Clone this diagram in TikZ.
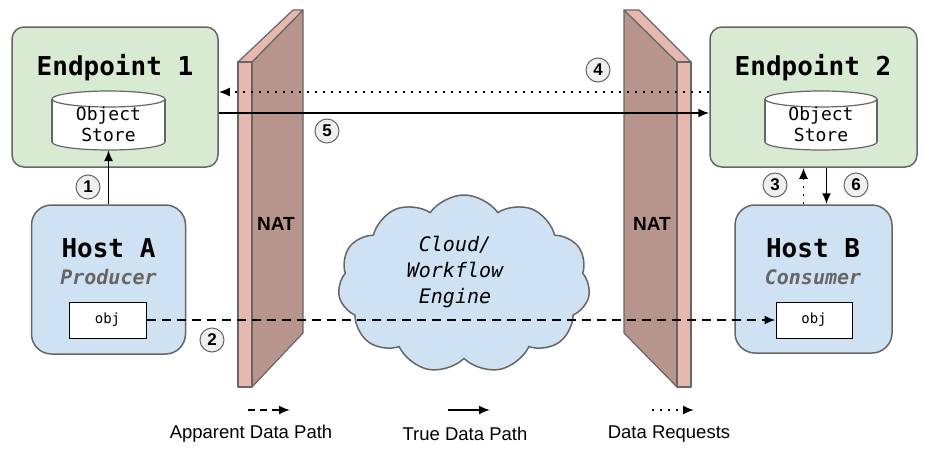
\documentclass[tikz,border=0pt]{standalone}
\usepackage{fontspec}
\setmainfont{Liberation Sans}
\newfontfamily\monof{DejaVu Sans Mono}
\usetikzlibrary{shapes.symbols,arrows.meta}
\definecolor{bordergray}{HTML}{666666}
\definecolor{epgreen}{HTML}{D9EAD3}
\definecolor{hostblue}{HTML}{CFE2F3}
\definecolor{natlight}{HTML}{E6B8AF}
\definecolor{natdark}{HTML}{B7958D}
\definecolor{numfill}{HTML}{EFEFEF}
\definecolor{subgray}{HTML}{666666}
\begin{document}
\begin{tikzpicture}[x=1pt,y=-1pt,
  epbox/.style={draw=bordergray, line width=1.5pt, rectangle, rounded corners=12pt, fill=epgreen},
  hostbox/.style={draw=bordergray, line width=1.5pt, rectangle, rounded corners=20pt, fill=hostblue},
  objbox/.style={draw=black, line width=1pt, fill=white, rectangle, minimum width=77pt, minimum height=36pt, font=\monof\fontsize{14}{16}\selectfont},
  titletext/.style={font=\monof\bfseries\fontsize{26}{28}\selectfont},
  subtext/.style={font=\monof\bfseries\itshape\fontsize{20}{22}\selectfont, text=subgray},
  storetext/.style={font=\monof\fontsize{18}{21}\selectfont, align=center},
  natface/.style={draw=bordergray, line width=1.2pt, line join=round},
  nattext/.style={font=\bfseries\fontsize{19}{21}\selectfont},
  num/.style={circle, draw=bordergray, fill=numfill, line width=1pt, minimum size=24pt, inner sep=0pt, font=\bfseries\fontsize{17}{17}\selectfont},
  cyl/.style={draw=bordergray, line width=1.2pt, fill=white},
  truearrow/.style={line width=1.8pt, -{Latex[length=11pt,width=9pt]}},
  apparrow/.style={line width=1.8pt, dash pattern=on 9pt off 6pt, -{Latex[length=11pt,width=9pt]}},
  reqarrow/.style={line width=1.8pt, dash pattern=on 2pt off 6pt, -{Latex[length=11pt,width=9pt]}},
  legtext/.style={font=\fontsize{18.5}{20}\selectfont}
]
\useasboundingbox (0,0) rectangle (929,461);

% NAT left
\draw[natface, fill=natdark] (252,62) -- (303,10) -- (303,333) -- (252,387) -- cycle;
\draw[natface, fill=natlight] (238,62) -- (293,10) -- (303,10) -- (252,62) -- cycle;
\draw[natface, fill=natlight] (238,62) rectangle (252,387);
\node[nattext] (nat1) at (276,224) {NAT};

% NAT right
\draw[natface, fill=natdark] (624,10) -- (677,62) -- (677,387) -- (624,333) -- cycle;
\draw[natface, fill=natlight] (624,10) -- (639,10) -- (691,62) -- (677,62) -- cycle;
\draw[natface, fill=natlight] (677,62) rectangle (691,387);
\node[nattext] (nat2) at (652,224) {NAT};

% Cloud
\node[cloud, cloud puffs=11, cloud puff arc=110, aspect=1.4, draw=bordergray, fill=hostblue, line width=1.5pt, minimum width=252pt, minimum height=178pt] (cloud) at (464,284) {};
\node[font=\monof\itshape\fontsize{20}{26}\selectfont, align=center] (cloudtext) at (455,272) {Cloud/\\Workflow\\Engine};

% Endpoint 1
\node[epbox, minimum width=206pt, minimum height=140pt] (ep1) at (115,97) {};
\node[titletext] (ep1title) at (115,68) {Endpoint 1};
\draw[cyl] (108.5,142) ellipse [x radius=56.5, y radius=8];
\fill[white] (52,99) rectangle (165,142);
\draw[draw=bordergray, line width=1.2pt] (52,99) -- (52,142) (165,99) -- (165,142);
\draw[cyl] (108.5,99) ellipse [x radius=56.5, y radius=8];
\node[storetext] (store1) at (108.5,124) {Object\\Store};
\coordinate (store1bot) at (108.5,150);

% Endpoint 2
\node[epbox, minimum width=207pt, minimum height=140pt] (ep2) at (813.5,97) {};
\node[titletext] (ep2title) at (813,68) {Endpoint 2};
\draw[cyl] (821,142) ellipse [x radius=56, y radius=8];
\fill[white] (765,99) rectangle (877,142);
\draw[draw=bordergray, line width=1.2pt] (765,99) -- (765,142) (877,99) -- (877,142);
\draw[cyl] (821,99) ellipse [x radius=56, y radius=8];
\node[storetext] (store2) at (821,124) {Object\\Store};

% Host A
\node[hostbox, minimum width=154pt, minimum height=149pt] (hostA) at (108.5,279.5) {};
\node[titletext] (hostAtitle) at (108.5,248) {Host A};
\node[subtext] (prod) at (108.5,277) {Producer};
\node[objbox] (objA) at (107.5,320) {obj};

% Host B
\node[hostbox, minimum width=157pt, minimum height=148pt] (hostB) at (813.5,279) {};
\node[titletext] (hostBtitle) at (813,248) {Host B};
\node[subtext] (cons) at (813,277) {Consumer};
\node[objbox, minimum width=76pt] (objB) at (814,320) {obj};

% Connectors
\draw[truearrow] (hostA.north) -- (store1bot);
\draw[apparrow] (objA.east) -- (objB.west);
\draw[reqarrow] ([xshift=-10pt]hostB.north) -- ([xshift=-10pt]ep2.south);
\draw[reqarrow] ([yshift=5pt]ep2.west) -- ([yshift=5pt]ep1.east);
\draw[truearrow] ([yshift=-16pt]ep1.east) -- ([yshift=-16pt]ep2.west);
\draw[truearrow] ([xshift=13pt]ep2.south) -- ([xshift=13pt]hostB.north);

% Step numbers
\node[num] (n1) at (88,187) {1};
\node[num] (n2) at (212,340) {2};
\node[num] (n3) at (775,185) {3};
\node[num] (n4) at (598,70) {4};
\node[num] (n5) at (327,131) {5};
\node[num] (n6) at (856,185) {6};

% Legend
\coordinate (la1) at (248,410); \coordinate (la2) at (290,410);
\coordinate (lt1) at (448,410); \coordinate (lt2) at (490,410);
\coordinate (lr1) at (652,410); \coordinate (lr2) at (694,410);
\draw[apparrow, dash pattern=on 7pt off 5pt] (la1) -- (la2);
\draw[truearrow] (lt1) -- (lt2);
\draw[reqarrow] (lr1) -- (lr2);
\node[legtext] (leg1) at (251,434) {Apparent Data Path};
\node[legtext] (leg2) at (465,434) {True Data Path};
\node[legtext] (leg3) at (669,434) {Data Requests};
\end{tikzpicture}
\end{document}
